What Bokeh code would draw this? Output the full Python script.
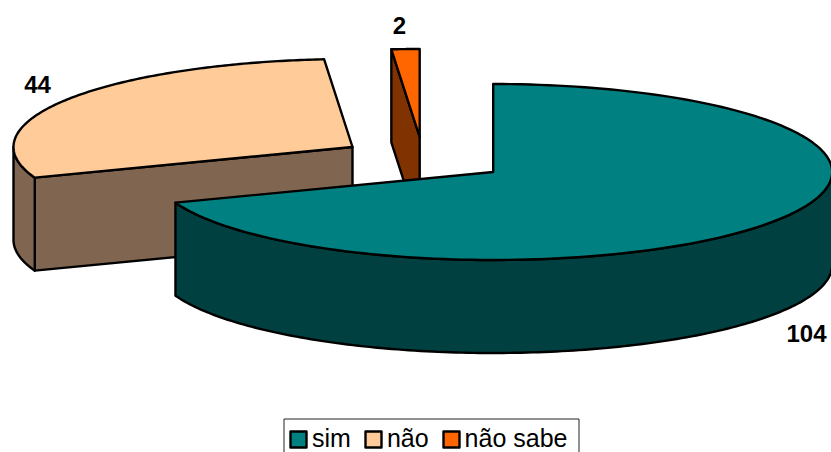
import numpy as np
from bokeh.core.properties import value
from bokeh.embed import file_html
from bokeh.models import Legend, LegendItem, Range1d
from bokeh.plotting import figure
from bokeh.resources import INLINE

# Survey answers and their counts
categories = ["sim", "não", "não sabe"]
counts = [104, 44, 2]
top_colors = ["#008080", "#FFCC99", "#FF6600"]
side_colors = ["#004040", "#806650", "#803300"]

# Projection of the tilted pie, in page pixels
RX, RY, DEPTH = 339.0, 88.0, 93.0
centers = [(492.7, 171.5), (352.0, 146.5), (419.2, 136.5)]
label_positions = [(806, 333), (37, 84), (399, 25)]

p = figure(width=831, height=452, output_backend="svg", toolbar_location=None,
           x_range=Range1d(0, 831), y_range=Range1d(452, 0),
           min_border=0, outline_line_color=None, background_fill_color="white")
p.axis.visible = False
p.grid.visible = False


def rim(center, a0, a1, n=160):
    """Points on the rim ellipse, with angles clockwise from twelve o'clock."""
    t = np.radians(np.linspace(a0, a1, n))
    return center[0] + RX * np.sin(t), center[1] - RY * np.cos(t)


def outline(fill, xs, ys):
    return p.patch(list(xs), list(ys), fill_color=fill, line_color="black",
                   line_width=2.4, line_join="round")


# Slice angles follow from the counts
total = sum(counts)
edges = np.concatenate([[0], np.cumsum(counts) / total * 360])
tops = {}

# Farthest slice first, so the big one lands in front of the others
for i in (2, 1, 0):
    a0, a1 = edges[i], edges[i + 1]
    c = centers[i]
    top_x, top_y = rim(c, a0, a1)

    # Flat face along the first cut edge of the slice
    if i > 0:
        ex, ey = rim(c, a0, a0, 1)
        outline(side_colors[i],
                [ex[0], c[0], c[0], ex[0]],
                [ey[0], c[1], c[1] + DEPTH, ey[0] + DEPTH])

    # Curved outer wall, only where the rim faces the viewer
    w0, w1 = max(a0, 90), min(a1, 270)
    if w1 > w0:
        wx, wy = rim(c, w0, w1)
        outline(side_colors[i],
                np.concatenate([wx, wx[::-1]]),
                np.concatenate([wy, wy[::-1] + DEPTH]))

    tops[i] = outline(top_colors[i],
                      np.concatenate([[c[0]], top_x]),
                      np.concatenate([[c[1]], top_y]))

# Value labels
p.text(x=[q[0] for q in label_positions], y=[q[1] for q in label_positions],
       text=[str(v) for v in counts], text_font=value("Liberation Sans"),
       text_font_style="bold", text_font_size="24px", text_color="black",
       text_align="center", text_baseline="middle")

# Frame around the legend; it runs off the bottom of the page
p.quad(left=283.5, right=578.5, top=418.5, bottom=470, fill_color="white",
       line_color="#222222", line_width=1)

legend = Legend(
    items=[LegendItem(label=categories[i], renderers=[tops[i]]) for i in range(3)],
    orientation="horizontal", location=(288, -1), margin=0, padding=6, spacing=12,
    glyph_width=20, glyph_height=20, label_standoff=4,
    label_text_font="Liberation Sans", label_text_font_size="25px",
    label_text_color="black", border_line_color=None, background_fill_alpha=0,
)
p.add_layout(legend, "center")

open("out.html", "w").write(file_html(p, INLINE))
